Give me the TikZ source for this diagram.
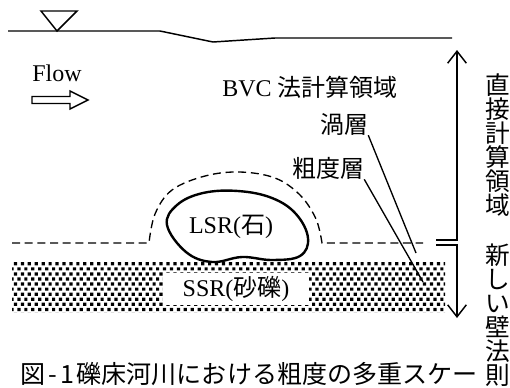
\documentclass[tikz,border=0pt]{standalone}
\usepackage{fontspec}
\setmainfont{Liberation Serif}
\newfontfamily\jp{Noto Sans CJK JP}
\usetikzlibrary{arrows.meta,patterns}

% staggered small squares for the gravel bed
\pgfdeclarepatternformonly{gravel}{\pgfqpoint{-0.1pt}{-0.1pt}}{\pgfqpoint{5.3pt}{7.7pt}}{\pgfqpoint{5.2pt}{7.6pt}}{%
  \pgfpathrectangle{\pgfqpoint{0pt}{0pt}}{\pgfqpoint{2.4pt}{2.4pt}}%
  \pgfpathrectangle{\pgfqpoint{2.6pt}{3.8pt}}{\pgfqpoint{2.4pt}{2.4pt}}%
  \pgfusepath{fill}}

\begin{document}
\begin{tikzpicture}[x=0.75pt,y=-0.75pt,
    line/.style={line width=1.1pt},
    stone/.style={line width=1.8pt},
    bnd/.style={line width=1pt,dash pattern=on 6pt off 3.5pt},
    leader/.style={line width=1pt},
    dim/.style={line width=1.1pt,-{Straight Barb[length=9pt,width=14pt,line width=1.1pt]}},
    lat/.style={inner sep=0pt,font=\fontsize{18pt}{20pt}\selectfont},
    jlab/.style={inner sep=0pt,font=\jp\fontsize{18pt}{20pt}\selectfont},
    vcol/.style={inner sep=0pt,align=center,font=\jp\fontsize{18.5pt}{18pt}\selectfont}]
  \useasboundingbox (0,0) rectangle (510,387);
  \clip (0,0) rectangle (510,387);

  % ---- water surface -------------------------------------------------------
  \draw[line] (8,31) -- (160,31) -- (213,42) -- (275,38) -- (452,38);
  \draw[line] (41,11) -- (77,11) -- (57,31) -- cycle;

  % ---- flow ----------------------------------------------------------------
  \node[lat] (flow) at (57,73) {Flow};
  \draw[line] (32,96.5) -- (70,96.5) -- (70,91) -- (88,100) -- (70,109)
              -- (70,103.5) -- (32,103.5) -- cycle;

  \node[lat] (bvc) at (310,87) {BVC {\jp 法計算領域}};

  % ---- gravel bed (SSR) ----------------------------------------------------
  \fill[pattern=gravel] (12,262) rectangle (445,312);
  \node[lat,fill=white,minimum width=110pt,minimum height=24pt] (ssr) at (236,289)
       {SSR({\jp 砂礫})};

  % ---- stone (LSR) and roughness layer -------------------------------------
  \draw[stone] plot[smooth cycle,tension=0.65] coordinates {
      (167,225) (177,205) (203,193) (238,191) (272,198) (296,214) (308,238)
      (300,256) (272,260) (242,257) (212,262) (186,252)};
  \node[lat] (lsr) at (231,227) {LSR({\jp 石})};

  \draw[bnd] (12,243) -- (149,243) -- plot[smooth,tension=0.6] coordinates {
      (149,243) (155,214) (172,190) (205,176) (240,172) (275,178) (300,195)
      (316,219) (322,243)} -- (423,243);

  % ---- layer labels --------------------------------------------------------
  \node[jlab] (vortex) at (344,124) {渦層};
  \node[jlab] (rough)  at (328,168) {粗度層};
  \coordinate (vortexend) at (416,253);
  \coordinate (roughend)  at (423,282);
  \draw[leader] (vortex.south east) -- (vortexend);
  \draw[leader] (rough.south east) -- (roughend);

  % ---- computation domains -------------------------------------------------
  \coordinate (uptop) at (457,50);
  \coordinate (lowbot) at (457,318);
  \draw[dim] (436,240) -- (457,240) -- (uptop);
  \draw[dim] (436,245) -- (457,245) -- (lowbot);
  \node[vcol] (direct) at (498,145) {直\\接\\計\\算\\領\\域};
  \node[vcol] (newlaw) at (498,315) {新\\し\\い\\壁\\法\\則};

  % ---- caption -------------------------------------------------------------
  \node[inner sep=0pt,font=\jp\fontsize{18.8pt}{20pt}\selectfont] (caption) at (249,374)
       {図\kern2pt-\kern2.5pt1\kern2pt礫床河川における粗度の多重スケー};
\end{tikzpicture}
\end{document}
